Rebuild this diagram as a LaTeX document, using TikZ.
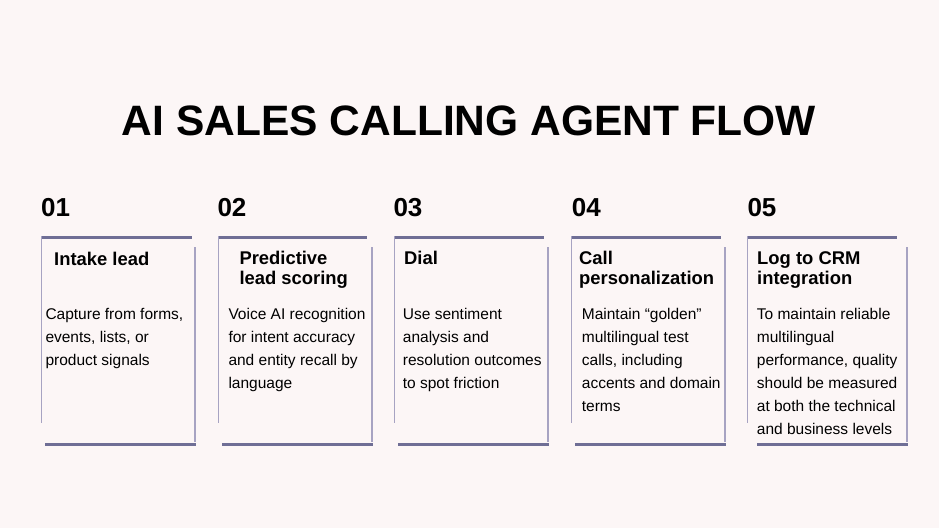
\documentclass[tikz,border=0pt]{standalone}
\usepackage{fontspec}
\setmainfont{Liberation Sans}
\usetikzlibrary{positioning}

\definecolor{bgpink}{HTML}{FCF6F6}
\definecolor{barpurple}{HTML}{6F6E95}
\definecolor{sidepurple}{HTML}{A7A3C2}

% multi-line nodes: base = baseline of the last line
\tikzset{
  titletext/.style={font=\fontsize{42.5}{44}\selectfont\bfseries, inner sep=0pt, anchor=base},
  numlabel/.style={font=\fontsize{26}{26}\selectfont\bfseries, inner sep=0pt, anchor=base west},
  headtext/.style={font=\fontsize{18.4}{20}\selectfont\bfseries, inner sep=0pt, anchor=base west, align=left},
  bodytext/.style={font=\fontsize{15.5}{23}\selectfont, inner sep=0pt, anchor=base west, align=left},
  topbar/.style={barpurple, line width=3pt},
  sideline/.style={sidepurple, line width=1.6pt},
}

\begin{document}
\begin{tikzpicture}[x=1pt,y=-1pt]
\useasboundingbox (0,0) rectangle (939,528);
\fill[bgpink] (0,0) rectangle (939,528);

\node[titletext] (title) at (469,135) {AI SALES CALLING AGENT FLOW};

% card 01
\node[numlabel] (num1) at (41,216) {01};
\draw[topbar] (41,237.5) -- (192,237.5);
\draw[sideline] (41.5,236) -- (41.5,423);
\draw[sideline] (195,247) -- (195,442);
\draw[topbar] (45,444) -- (196,444);
\node[headtext] (head1) at (54,265) {Intake lead};
\node[bodytext] (body1) at (45.3,365.5) {Capture from forms,\\events, lists, or\\product signals};

% card 02
\node[numlabel] (num2) at (217.3,216) {02};
\draw[topbar] (218,237.5) -- (367,237.5);
\draw[sideline] (218.5,236) -- (218.5,423);
\draw[sideline] (372,247) -- (372,442);
\draw[topbar] (222,444) -- (373,444);
\node[headtext] (head2) at (239.3,284.5) {Predictive\\lead scoring};
\node[bodytext] (body2) at (228.3,388.5) {Voice AI recognition\\for intent accuracy\\and entity recall by\\language};

% card 03
\node[numlabel] (num3) at (393.3,216) {03};
\draw[topbar] (394,237.5) -- (544,237.5);
\draw[sideline] (394.5,236) -- (394.5,423);
\draw[sideline] (548,247) -- (548,442);
\draw[topbar] (398,444) -- (549,444);
\node[headtext] (head3) at (404,264.5) {Dial};
\node[bodytext] (body3) at (402.7,388.5) {Use sentiment\\analysis and\\resolution outcomes\\to spot friction};

% card 04
\node[numlabel] (num4) at (571.7,216) {04};
\draw[topbar] (571,237.5) -- (721,237.5);
\draw[sideline] (571.5,236) -- (571.5,423);
\draw[sideline] (725,247) -- (725,442);
\draw[topbar] (575,444) -- (726,444);
\node[headtext] (head4) at (579,284.5) {Call\\personalization};
\node[bodytext] (body4) at (581.7,411.5) {Maintain “golden”\\multilingual test\\calls, including\\accents and domain\\terms};

% card 05
\node[numlabel] (num5) at (747.3,216) {05};
\draw[topbar] (747,237.5) -- (897,237.5);
\draw[sideline] (747.5,236) -- (747.5,423);
\draw[sideline] (906.7,247) -- (906.7,442);
\draw[topbar] (757,444) -- (907.5,444);
\node[headtext] (head5) at (757,284.5) {Log to CRM\\integration};
\node[bodytext] (body5) at (756.7,434.5) {To maintain reliable\\multilingual\\performance, quality\\should be measured\\at both the technical\\and business levels};
\end{tikzpicture}
\end{document}
